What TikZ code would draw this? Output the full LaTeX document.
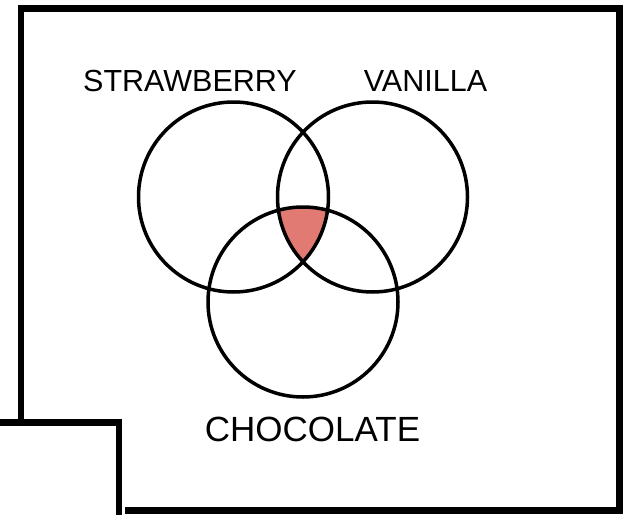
\documentclass[tikz,border=0pt]{standalone}
\usepackage{fontspec}
\setmainfont{Liberation Sans}
\definecolor{salmon}{RGB}{225,122,114}

\begin{document}
\begin{tikzpicture}[x=1pt, y=-1pt,
    ring/.style={line width=3.5pt},
    frame/.style={line width=6.5pt},
    flavour/.style={anchor=base, inner sep=0pt, font=\fontsize{30.5}{36}\selectfont}]
  \useasboundingbox (0,0) rectangle (623,514);

  % Centers of the circles
  \coordinate (S) at (233.5,197); % Strawberry
  \coordinate (V) at (372.5,197); % Vanilla
  \coordinate (C) at (303,302); % Chocolate

  % Part shared by all three
  \begin{scope}
    \clip (S) circle (95pt);
    \clip (V) circle (95pt);
    \fill[salmon] (C) circle (95pt);
  \end{scope}

  % Circles
  \draw[ring] (S) circle (95pt);
  \draw[ring] (V) circle (95pt);
  \draw[ring] (C) circle (95pt);

  % Labels
  \node[flavour] (strawberry) at (190,91) {STRAWBERRY};
  \node[flavour] (vanilla) at (425.5,91) {VANILLA};
  \node[flavour, font=\fontsize{35}{42}\selectfont] (chocolate) at (312.5,441) {CHOCOLATE};

  % Frame and the box in front of its corner
  \draw[frame] (21,423) -- (21,8.5) -- (619.5,8.5) -- (619.5,510.5) -- (125,510.5);
  \draw[frame] (0,422.5) -- (119,422.5) -- (119,520);
\end{tikzpicture}
\end{document}
